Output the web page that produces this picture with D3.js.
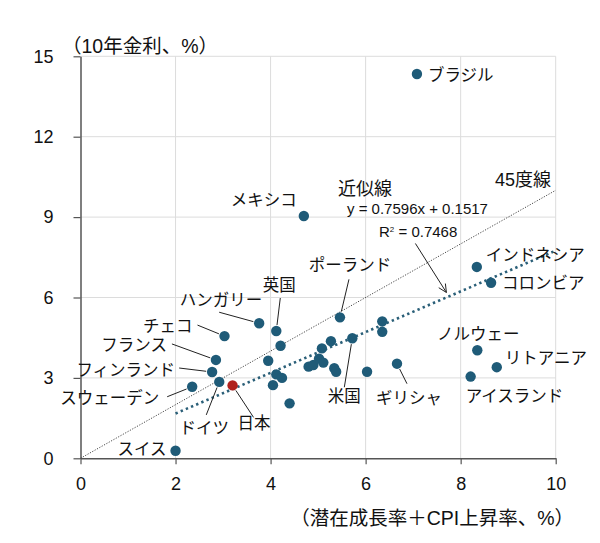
<!DOCTYPE html>
<html>
<head>
<meta charset="utf-8">
<script src="https://cdn.jsdelivr.net/npm/d3@7"></script>
<style>
  body { margin: 0; background: #fff; }
  svg { display: block; }
</style>
</head>
<body>
<div id="chart"></div>
<script>
// data
var names = ["ブラジル", "メキシコ", "インドネシア", "コロンビア", "ポーランド", "英国", "ハンガリー",
             "チェコ", "フランス", "フィンランド", "スウェーデン", "ドイツ", "日本", "スイス",
             "米国", "ギリシャ", "ノルウェー", "リトアニア", "アイスランド",
             "", "", "", "", "", "", "", "", "", "", "", "", "", "", "", "", ""];
var xs = [7.08, 4.70, 8.34, 8.64, 5.46, 4.12, 3.76,
          3.03, 2.85, 2.77, 2.35, 2.92, 3.20, 2.00,
          5.72, 6.66, 8.35, 8.76, 8.21,
          4.21, 3.95, 4.12, 4.24, 4.05, 4.40, 4.80, 4.90, 6.35, 6.35, 5.27, 5.08, 5.02, 5.11, 5.34, 5.38, 6.03];
var ys = [14.34, 9.04, 7.14, 6.55, 5.26, 4.75, 5.04,
          4.56, 3.67, 3.22, 2.67, 2.85, 2.72, 0.28,
          4.48, 3.53, 4.03, 3.40, 3.05,
          4.20, 3.64, 3.13, 3.00, 2.73, 2.05, 3.42, 3.48, 5.11, 4.72, 4.37, 4.10, 3.72, 3.57, 3.36, 3.23, 3.23];
var xTicks = [0, 2, 4, 6, 8, 10];
var yTicks = [0, 3, 6, 9, 12, 15];
var slope = 0.7596, intercept = 0.1517, r2 = 0.7468;
var fitRange = [2, 10];

// label placement, px offsets from the dot
var labelPos = {
  "ブラジル":     { dx: 11,  dy: 7,  anchor: "start" },
  "メキシコ":     { dx: -7,  dy: -10, anchor: "end" },
  "インドネシア": { dx: 9,   dy: -6, anchor: "start" },
  "コロンビア":   { dx: 11,  dy: 6,  anchor: "start" },
  "ポーランド":   { dx: 10,  dy: -46, anchor: "middle", lead: [9, -38] },
  "英国":         { dx: 3,   dy: -40, anchor: "middle", lead: [4, -33] },
  "ハンガリー":   { dx: 3,   dy: -17, anchor: "end", lead: [-40, -11] },
  "チェコ":       { dx: -32, dy: -4, anchor: "end", lead: [-27, -11] },
  "フランス":     { dx: -49, dy: -9, anchor: "end", lead: [-44, -16] },
  "フィンランド": { dx: -37, dy: 4,  anchor: "end", lead: [-33, -4] },
  "スウェーデン": { dx: -33, dy: 17, anchor: "end", lead: [-25, 10] },
  "ドイツ":       { dx: -15, dy: 52, anchor: "middle", lead: [-13, 33] },
  "日本":         { dx: 5,   dy: 44, anchor: "start", lead: [21, 32] },
  "スイス":       { dx: -9,  dy: 4,  anchor: "end" },
  "米国":         { dx: -8,  dy: 64, anchor: "middle", lead: [-8, 49] },
  "ギリシャ":     { dx: -21, dy: 40, anchor: "start", lead: [10, 20] },
  "ノルウェー":   { dx: 1,   dy: -10, anchor: "middle" },
  "リトアニア":   { dx: 8,   dy: -3, anchor: "start" },
  "アイスランド": { dx: -5,  dy: 25, anchor: "start" }
};

var width = 600, height = 543;
var jpFont = "'Liberation Sans', 'Noto Sans CJK JP', sans-serif";

var svg = d3.select("#chart")
            .append("svg")
            .attr("width", width)
            .attr("height", height)
            .style("font-family", jpFont);

var x = d3.scaleLinear().domain([0, 10]).range([80.5, 555.7]);
var y = d3.scaleLinear().domain([0, 15]).range([458.3, 56.3]);

// griglia
svg.append("g")
   .selectAll("line.v")
   .data(xTicks.slice(1))
   .enter().append("line")
   .attr("x1", function(d) { return x(d); })
   .attr("x2", function(d) { return x(d); })
   .attr("y1", y(0))
   .attr("y2", y(15))
   .attr("stroke", "#dcdcdc")
   .attr("stroke-width", 1);

svg.append("g")
   .selectAll("line.h")
   .data(yTicks.slice(1))
   .enter().append("line")
   .attr("x1", x(0))
   .attr("x2", x(10))
   .attr("y1", function(d) { return y(d); })
   .attr("y2", function(d) { return y(d); })
   .attr("stroke", "#dcdcdc")
   .attr("stroke-width", 1);

// assi
var yAxis = svg.append("g")
               .attr("transform", "translate(" + x(0) + ",0)")
               .call(d3.axisLeft(y).tickValues(yTicks).tickSize(7).tickSizeOuter(0).tickPadding(20));
var xAxis = svg.append("g")
               .attr("transform", "translate(0," + y(0) + ")")
               .call(d3.axisBottom(x).tickValues(xTicks).tickSize(6).tickSizeOuter(0).tickPadding(13));

[xAxis, yAxis].forEach(function(a) {
  a.select(".domain").attr("stroke", "#555").attr("stroke-width", 1.5);
  a.selectAll(".tick line").attr("stroke", "#555").attr("stroke-width", 1.2);
  a.selectAll(".tick text")
   .attr("fill", "#111")
   .style("font-size", "18px")
   .style("font-family", "'Liberation Sans', sans-serif");
});

// 45 degree line
svg.append("line")
   .attr("x1", x(0)).attr("y1", y(0))
   .attr("x2", x(10)).attr("y2", y(10))
   .attr("stroke", "#333")
   .attr("stroke-width", 0.9)
   .attr("stroke-dasharray", "1.2,1.5");

// fit line
svg.append("line")
   .attr("x1", x(fitRange[0])).attr("y1", y(slope * fitRange[0] + intercept))
   .attr("x2", x(fitRange[1])).attr("y2", y(slope * fitRange[1] + intercept))
   .attr("stroke", "#2a5f78")
   .attr("stroke-width", 2.6)
   .attr("stroke-dasharray", "2.4,3.2");

// leader lines
var pts = names.map(function(n, i) { return { name: n, x: xs[i], y: ys[i] }; });

pts.forEach(function(p) {
  var l = labelPos[p.name];
  if (!l || !l.lead) return;
  var cx = x(p.x), cy = y(p.y);
  var sx = cx + l.lead[0], sy = cy + l.lead[1];
  var len = Math.sqrt(l.lead[0] * l.lead[0] + l.lead[1] * l.lead[1]);
  var k = 6 / len;
  svg.append("line")
     .attr("x1", sx).attr("y1", sy)
     .attr("x2", cx + l.lead[0] * k).attr("y2", cy + l.lead[1] * k)
     .attr("stroke", "#222")
     .attr("stroke-width", 1);
});

// punti
svg.append("g")
   .selectAll("circle")
   .data(pts)
   .enter().append("circle")
   .attr("cx", function(d) { return x(d.x); })
   .attr("cy", function(d) { return y(d.y); })
   .attr("r", 5.2)
   .attr("fill", function(d) { return d.name == "日本" ? "#b0221e" : "#1f5b78"; });

// etichette
svg.append("g")
   .selectAll("text")
   .data(pts.filter(function(d) { return d.name != ""; }))
   .enter().append("text")
   .attr("x", function(d) { return x(d.x) + labelPos[d.name].dx; })
   .attr("y", function(d) { return y(d.y) + labelPos[d.name].dy; })
   .attr("text-anchor", function(d) { return labelPos[d.name].anchor; })
   .style("font-size", "16.5px")
   .attr("fill", "#111")
   .text(function(d) { return d.name; });

// annotazioni
svg.append("text")
   .attr("x", 338).attr("y", 195)
   .style("font-size", "18px")
   .attr("fill", "#111")
   .text("近似線");

svg.append("text")
   .attr("x", 347).attr("y", 214)
   .style("font-size", "15px")
   .attr("fill", "#111")
   .text("y = " + slope + "x + " + intercept);

var r2Text = svg.append("text")
   .attr("x", 379).attr("y", 237)
   .style("font-size", "15px")
   .attr("fill", "#111");
r2Text.append("tspan").text("R");
r2Text.append("tspan").attr("dy", -5).style("font-size", "8px").text("2");
r2Text.append("tspan").attr("dy", 5).text(" = " + r2);

svg.append("text")
   .attr("x", 495).attr("y", 186)
   .style("font-size", "18px")
   .attr("fill", "#111")
   .text("45度線");

// arrow to fit line
var ax = 7.7;
var tipX = x(ax), tipY = y(slope * ax + intercept) - 5;
var tailX = tipX - 31, tailY = tipY - 49;
svg.append("line")
   .attr("x1", tailX).attr("y1", tailY)
   .attr("x2", tipX).attr("y2", tipY)
   .attr("stroke", "#222").attr("stroke-width", 1);
var ang = Math.atan2(tipY - tailY, tipX - tailX);
[-0.45, 0.45].forEach(function(a) {
  svg.append("line")
     .attr("x1", tipX).attr("y1", tipY)
     .attr("x2", tipX - 9 * Math.cos(ang + a))
     .attr("y2", tipY - 9 * Math.sin(ang + a))
     .attr("stroke", "#222").attr("stroke-width", 1);
});

// titoli assi
svg.append("text")
   .attr("x", 62).attr("y", 53)
   .style("font-size", "19.5px")
   .attr("fill", "#111")
   .text("（10年金利、%）");

svg.append("text")
   .attr("x", 574).attr("y", 525)
   .attr("text-anchor", "end")
   .style("font-size", "19.5px")
   .attr("fill", "#111")
   .text("（潜在成長率＋CPI上昇率、%）");
</script>
</body>
</html>
